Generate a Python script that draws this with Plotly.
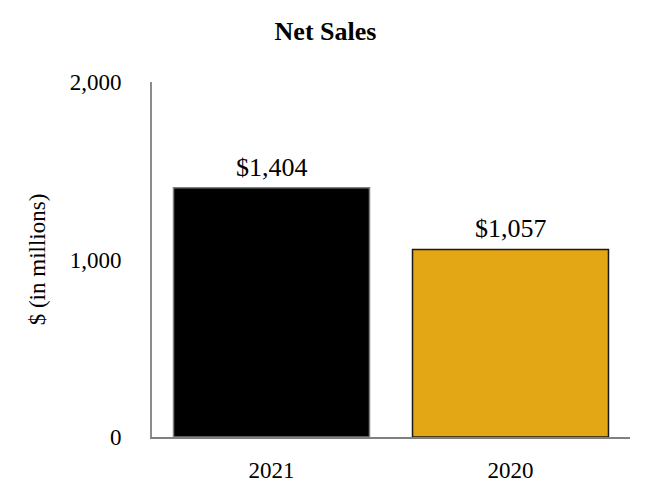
import plotly.graph_objects as go

categories = ["2021", "2020"]
net_sales = [1404, 1057]
bar_colors = ["#000000", "#E3A614"]
line_colors = ["#7F7F7F", "#1A1A1A"]
labels = ["$" + format(v, ",") for v in net_sales]

fig = go.Figure()
fig.add_trace(go.Bar(
    x=categories, y=net_sales,
    marker=dict(color=bar_colors, line=dict(color=line_colors, width=1.5)),
    hoverinfo="skip",
))
for i, (v, t) in enumerate(zip(net_sales, labels)):
    fig.add_annotation(x=i, y=v, text=t, showarrow=False, yanchor="bottom", yshift=4,
                       font=dict(family="Liberation Serif", size=26, color="#000000"))

# page body adds an 8px offset; compensate
fig.update_layout(
    width=642, height=492,
    margin=dict(l=144, r=20, t=74, b=63),
    paper_bgcolor="white", plot_bgcolor="white",
    bargap=0.18,
    showlegend=False,
    font=dict(family="Liberation Serif", size=23, color="#000000"),
    title=dict(text="<b>Net Sales</b>", x=317.5 / 642, xanchor="center", xref="container",
               y=1 - 22.5 / 492, yref="container", yanchor="middle",
               font=dict(family="Liberation Serif", size=26, color="#000000")),
)
fig.update_yaxes(range=[0, 2000], tickvals=[0, 1000, 2000], ticktext=["0", "1,000", "2,000"],
                 showgrid=False, zeroline=False, showline=True, linecolor="#8C8C8C", linewidth=2,
                 ticks="outside", ticklen=24, tickcolor="rgba(0,0,0,0)", automargin=False,
                 tickfont=dict(size=23),
                 title=dict(text="$ (in millions)", standoff=18, font=dict(size=23)))
fig.update_xaxes(type="category", range=[-0.5, 1.5], showgrid=False, showline=True,
                 linecolor="#808080", linewidth=2, tickfont=dict(size=23),
                 ticks="outside", ticklen=11, tickcolor="rgba(0,0,0,0)", automargin=False)

fig.write_html("out.html")
